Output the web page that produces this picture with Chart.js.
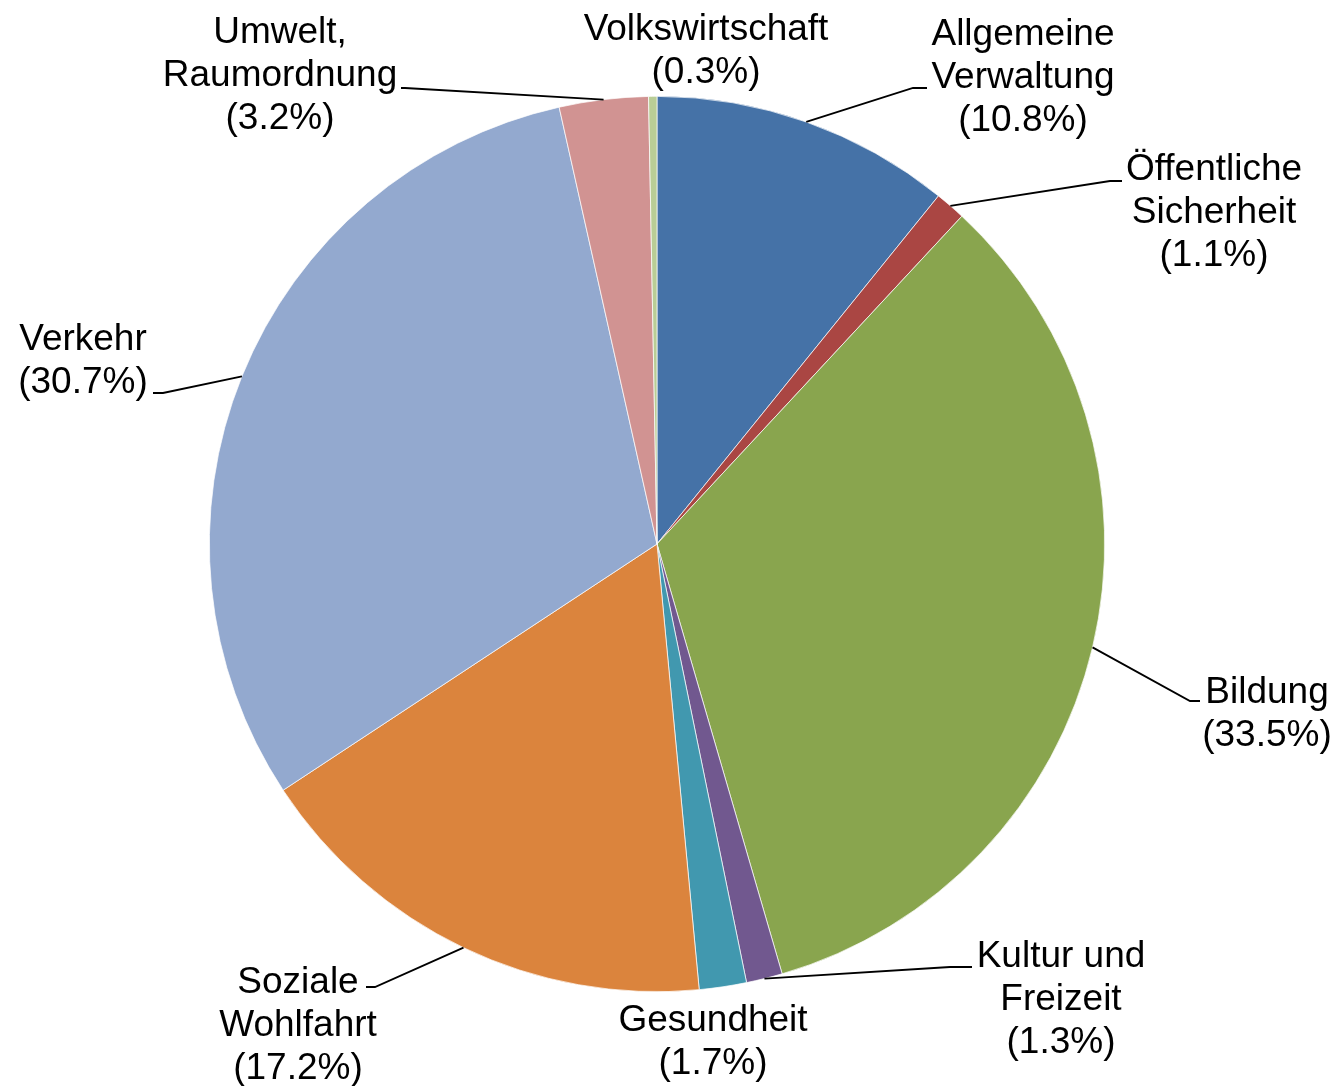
<!DOCTYPE html>
<html>
<head>
<meta charset="utf-8">
<script src="https://cdn.jsdelivr.net/npm/chart.js@4.4.1/dist/chart.umd.min.js"></script>
<style>
  html, body { margin: 0; padding: 0; background: #fff; }
  #wrap { width: 1338px; height: 1086px; position: relative; }
</style>
</head>
<body>
<div id="wrap"><canvas id="chart1"></canvas></div>
<script>
// data (Anteil in %)
const categories = [
    ['Allgemeine', 'Verwaltung'],
    ['Öffentliche', 'Sicherheit'],
    ['Bildung'],
    ['Kultur und', 'Freizeit'],
    ['Gesundheit'],
    ['Soziale', 'Wohlfahrt'],
    ['Verkehr'],
    ['Umwelt,', 'Raumordnung'],
    ['Volkswirtschaft']
];
const values = [10.8, 1.1, 33.5, 1.3, 1.7, 17.2, 30.7, 3.2, 0.3];
const percentLabels = ['(10.8%)', '(1.1%)', '(33.5%)', '(1.3%)', '(1.7%)', '(17.2%)', '(30.7%)', '(3.2%)', '(0.3%)'];

const colors = ['#4572A7', '#AA4643', '#89A54E', '#71588F', '#4198AF', '#DB843D', '#93A9CF', '#D19392', '#B9CD96'];

// where the labels sit (text centre x, first baseline y) and the leader elbow
const labelLayout = [
    { x: 1023, y: 45,   elbow: [913, 88],   end: [927, 88] },
    { x: 1214, y: 180,  elbow: [1110, 181], end: [1122, 181] },
    { x: 1267, y: 703,  elbow: [1190, 701], end: [1200, 701] },
    { x: 1061, y: 967,  elbow: [950, 967],  end: [972, 967] },
    { x: 713,  y: 1031 },
    { x: 298,  y: 993,  elbow: [375, 987],  end: [366, 987] },
    { x: 83,   y: 350,  elbow: [163, 393],  end: [153, 393] },
    { x: 280,  y: 43,   elbow: [405, 88],   end: [401, 88] },
    { x: 706,  y: 40 }
];
const lineHeight = 43;

const labelPlugin = {
    id: 'outsideLabels',
    afterDatasetsDraw(chart) {
        const ctx = chart.ctx;
        const meta = chart.getDatasetMeta(0);
        ctx.save();
        ctx.strokeStyle = '#000';
        ctx.lineWidth = 1.8;
        meta.data.forEach((arc, i) => {
            const lay = labelLayout[i];
            if (lay.elbow) {
                const mid = (arc.startAngle + arc.endAngle) / 2;
                const sx = arc.x + Math.cos(mid) * arc.outerRadius;
                const sy = arc.y + Math.sin(mid) * arc.outerRadius;
                ctx.beginPath();
                ctx.moveTo(sx, sy);
                ctx.lineTo(lay.elbow[0], lay.elbow[1]);
                ctx.lineTo(lay.end[0], lay.end[1]);
                ctx.stroke();
            }
            const lines = categories[i].concat([percentLabels[i]]);
            ctx.fillStyle = '#000';
            ctx.font = '37px "Liberation Sans", Arial, sans-serif';
            ctx.textAlign = 'center';
            ctx.textBaseline = 'alphabetic';
            lines.forEach((t, k) => {
                ctx.fillText(t, lay.x, lay.y + k * lineHeight);
            });
        });
        ctx.restore();
    }
};

const config = {
    type: 'pie',
    data: {
        labels: categories.map(c => c.join(' ')),
        datasets: [{
            data: values,
            backgroundColor: colors,
            borderColor: '#ffffff',
            borderWidth: 0.7
        }]
    },
    options: {
        responsive: true,
        maintainAspectRatio: false,
        animation: false,
        layout: {
            padding: { left: 209, right: 233, top: 96, bottom: 94 }
        },
        plugins: {
            legend: { display: false },
            tooltip: { enabled: false }
        }
    },
    plugins: [labelPlugin]
};

new Chart(document.getElementById('chart1'), config);
</script>
</body>
</html>
